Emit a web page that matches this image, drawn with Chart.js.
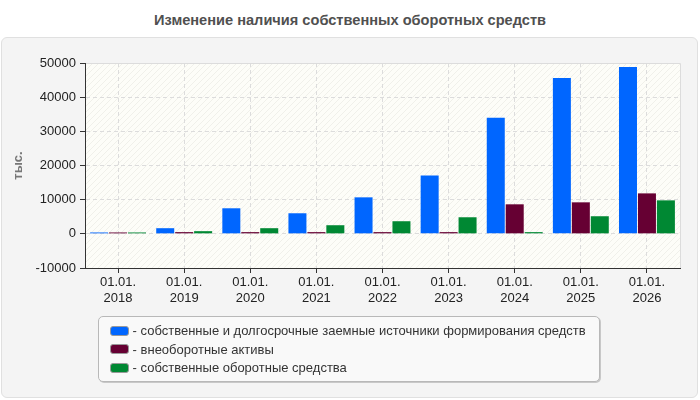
<!DOCTYPE html>
<html lang="ru">
<head>
    <meta charset="UTF-8">
    <title>Изменение наличия собственных оборотных средств</title>
    <script src="https://cdn.jsdelivr.net/npm/chart.js"></script>
    <style>
        body { margin: 0; background: #fff; font-family: "Liberation Sans", Arial, sans-serif; }
        #wrap { position: relative; width: 700px; height: 400px; }
        #title { position: absolute; top: 12px; left: 0; width: 700px; text-align: center;
                 font-size: 14.6px; font-weight: bold; color: #505050; }
        #panel { position: absolute; left: 1px; top: 37px; width: 695px; height: 359px;
                 background: #f4f4f4; border: 1px solid #e0e0e0; border-radius: 6px; }
        #chart { position: absolute; left: 0; top: 0; }
        #legend { position: absolute; left: 98px; top: 316px; width: 500px; height: 64px;
                  background: #f9f9f9; border: 1px solid #b8b8b8; border-radius: 5px;
                  box-shadow: 1px 1px 0 #c8c8c8; font-size: 13px; color: #333; }
        .item { position: absolute; left: 11px; height: 15px; line-height: 15px; white-space: nowrap; }
        .sw { display: inline-block; width: 17px; height: 8px; border-radius: 3px; border: 1px solid #999;
              vertical-align: middle; margin-top: -2px; }
    </style>
</head>
<body>
<div id="wrap">
    <div id="title">Изменение наличия собственных оборотных средств</div>
    <div id="panel"></div>
    <canvas id="chart" width="700" height="400"></canvas>
    <div id="legend"></div>
</div>
<script>
    // данные с графика
    const dates = ['2018', '2019', '2020', '2021', '2022', '2023', '2024', '2025', '2026'];
    const ownLongTerm = [400, 1650, 7480, 6020, 10680, 17090, 33980, 45630, 48830];
    const nonCurrent = [400, 500, 500, 500, 500, 500, 8640, 9220, 11840];
    const ownWorking = [400, 780, 1650, 2520, 3690, 4850, 500, 5150, 9800];
    const seriesNames = [
        'собственные и долгосрочные заемные источники формирования средств',
        'внеоборотные активы',
        'собственные оборотные средства'
    ];
    const seriesColors = ['#0066ff', '#660033', '#008833'];

    const labels = dates.map(d => ['01.01.', d]);

    function hatch() {
        const c = document.createElement('canvas');
        c.width = 6; c.height = 6;
        const g = c.getContext('2d');
        g.fillStyle = '#fdfdf8';
        g.fillRect(0, 0, 6, 6);
        g.strokeStyle = '#f0f0ea';
        g.lineWidth = 1;
        g.beginPath();
        g.moveTo(0, 6); g.lineTo(6, 0);
        g.moveTo(-1, 1); g.lineTo(1, -1);
        g.moveTo(5, 7); g.lineTo(7, 5);
        g.stroke();
        return c;
    }

    const plotBg = {
        id: 'plotBg',
        beforeDraw(chart) {
            const a = chart.chartArea, ctx = chart.ctx;
            ctx.save();
            ctx.fillStyle = ctx.createPattern(hatch(), 'repeat');
            ctx.fillRect(a.left, a.top, a.right - a.left, a.bottom - a.top);
            ctx.strokeStyle = '#dcdcdc';
            ctx.beginPath();
            ctx.moveTo(a.left, a.top + 0.5); ctx.lineTo(a.right + 0.5, a.top + 0.5);
            ctx.lineTo(a.right + 0.5, a.bottom);
            ctx.stroke();
            ctx.restore();
        },
        afterDatasetsDraw(chart) {
            // сплошные оси поверх штриховой сетки
            const a = chart.chartArea, ctx = chart.ctx;
            ctx.save();
            ctx.strokeStyle = '#333';
            ctx.lineWidth = 1;
            ctx.beginPath();
            ctx.moveTo(a.left + 0.5, a.top); ctx.lineTo(a.left + 0.5, a.bottom + 0.5);
            ctx.lineTo(a.right + 1, a.bottom + 0.5);
            ctx.stroke();
            ctx.restore();
        }
    };

    const ds = [ownLongTerm, nonCurrent, ownWorking].map((d, i) => ({
        label: seriesNames[i],
        data: d,
        backgroundColor: seriesColors[i],
        borderWidth: 0,
        categoryPercentage: 0.86,
        barPercentage: 0.95
    }));

    const tickFont = { size: 13, family: '"Liberation Sans", Arial' };

    new Chart(document.getElementById('chart'), {
        type: 'bar',
        data: { labels: labels, datasets: ds },
        options: {
            responsive: false,
            animation: false,
            layout: { padding: { top: 63, right: 20, bottom: 92, left: 0 } },
            plugins: { legend: { display: false }, tooltip: { enabled: false } },
            scales: {
                x: {
                    afterFit(s) { s.height = 40; },
                    grid: { offset: false, color: '#dcdcdc', tickLength: 5,
                            tickColor: '#333', tickBorderDash: [] },
                    border: { color: '#333', width: 1, dash: [4, 3] },
                    ticks: { color: '#222', font: tickFont, maxRotation: 0, padding: 2 }
                },
                y: {
                    min: -10000, max: 50000,
                    afterFit(s) { s.width = 85; },
                    grid: { color: '#dcdcdc', tickLength: 5,
                            tickColor: '#333', tickBorderDash: [] },
                    border: { color: '#333', width: 1, dash: [4, 3] },
                    ticks: { stepSize: 10000, color: '#222', padding: 4, font: tickFont,
                             callback: v => String(v) },
                    title: { display: true, text: 'тыс.', color: '#777', padding: { top: 11 },
                             font: { size: 13, weight: 'bold', family: '"Liberation Sans", Arial' } }
                }
            }
        },
        plugins: [plotBg]
    });

    const leg = document.getElementById('legend');
    seriesNames.forEach((n, i) => {
        const el = document.createElement('div');
        el.className = 'item';
        el.style.top = (6 + i * 18.5) + 'px';
        el.innerHTML = '<span class="sw" style="background:' + seriesColors[i] + '"></span> - ' + n;
        leg.appendChild(el);
    });
</script>
</body>
</html>
